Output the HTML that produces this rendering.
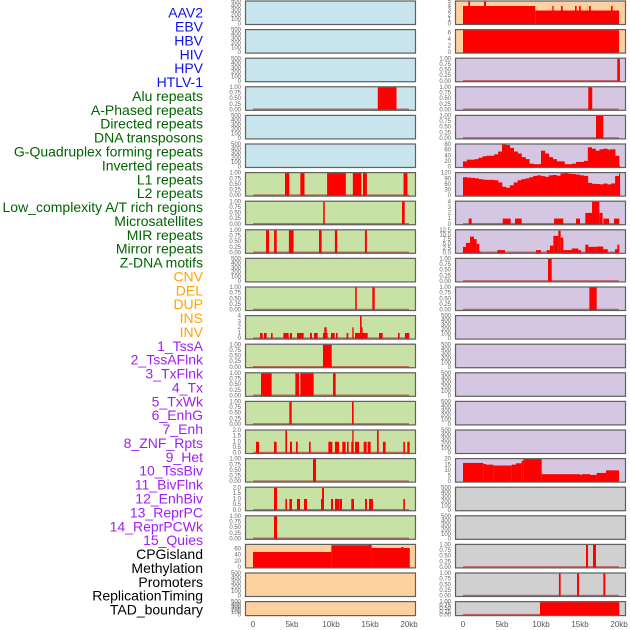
<!DOCTYPE html>
<html><head><meta charset="utf-8">
<style>
html,body{margin:0;padding:0;background:#fff;width:630px;height:630px;overflow:hidden}
svg{display:block}
</style></head>
<body>
<svg id="chart" width="630" height="630" xmlns="http://www.w3.org/2000/svg" font-family="Liberation Sans, sans-serif">
<g id="labels"></g>
<g id="panels"></g>
<g id="xaxes"></g>
</svg>
<script>
const trackLabels = ["AAV2","EBV","HBV","HIV","HPV","HTLV-1","Alu repeats","A-Phased repeats","Directed repeats","DNA transposons","G-Quadruplex forming repeats","Inverted repeats","L1 repeats","L2 repeats","Low_complexity A/T rich regions","Microsatellites","MIR repeats","Mirror repeats","Z-DNA motifs","CNV","DEL","DUP","INS","INV","1_TssA","2_TssAFlnk","3_TxFlnk","4_Tx","5_TxWk","6_EnhG","7_Enh","8_ZNF_Rpts","9_Het","10_TssBiv","11_BivFlnk","12_EnhBiv","13_ReprPC","14_ReprPCWk","15_Quies","CPGisland","Methylation","Promoters","ReplicationTiming","TAD_boundary"];
const labelGroups = [6,13,5,15,5];
const groupColors = ["#1010ee","#006400","#ffa500","#a020f0","#000000"];
const xTickLabels = ["0","5kb","10kb","15kb","20kb"];
const xTickValues = [0,5,10,15,20];

const ticks500 = ["0","100","200","300","400","500"];
const ticks1 = ["0.00","0.25","0.50","0.75","1.00"];
const ticks2 = ["0.0","0.5","1.0","1.5","2.0"];
const ticks4 = ["0","1","2","3","4"];
const ticks5 = ["0","1","2","3","4","5"];
const ticks6 = ["0","2","4","6"];
const ticks60 = ["0","20","40","60"];
const ticks80 = ["0","20","40","60","80"];
const ticks120 = ["0","30","60","90","120"];
const ticks125 = ["0.0","2.5","5.0","7.5","10.0","12.5"];
const ticks20 = ["0","5","10","15","20"];

// bars: [startKb, endKb, value]
const aluBars = [[16.0,18.4,1]];
const leftR6Bars = [[4.1,4.65,1],[6.07,6.6,1],[9.5,11.9,1],[12.8,13.9,1],[14.1,14.6,1],[19.3,19.8,1]];
const leftR7Bars = [[9.0,9.2,1],[19.1,19.45,1]];
const leftR8Bars = [[1.67,2.05,1],[2.7,3.04,1],[4.6,5.2,1],[8.46,8.8,1],[10.5,10.8,1],[14.35,14.6,1]];
const leftR10Bars = [[13.1,13.3,1],[15.3,15.6,1]];
const leftR11Bars = [[0.9,1.24,1],[1.41,1.75,1],[2.31,2.52,1],[3.89,4.57,1],[4.74,5.0,1],[5.64,6.49,1],[7.31,7.56,1],[7.82,8.29,1],[8.97,9.57,1],[9.14,9.44,2],[10.0,10.47,1],[10.64,10.85,1],[12.0,12.22,1],[12.73,12.9,2],[13.08,14.7,1],[13.72,13.93,4],[13.93,14.06,2],[16.15,16.62,1],[18.59,18.8,1],[19.48,20.04,1]];
const leftR12Bars = [[8.97,10.09,1]];
const leftR13Bars = [[1.03,2.39,1],[5.43,5.9,1],[6.07,7.78,1],[10.26,10.6,1]];
const leftR14Bars = [[4.66,4.96,1],[12.69,12.9,1]];
const leftR15Bars = [[0.38,0.77,1],[2.69,3.03,1],[4.15,4.36,2],[4.74,5.0,1],[5.51,5.73,1],[7.18,7.39,1],[9.66,10.17,1],[10.51,11.03,1],[11.45,11.88,1],[12.05,12.26,1],[12.6,12.9,1],[12.73,12.9,2],[13.08,13.59,1],[14.19,14.57,1],[14.7,15.08,1],[15.9,16.11,2],[16.66,17.0,1],[19.27,19.48,1],[19.78,20.08,1]];
const leftR16Bars = [[7.69,8.08,1]];
const leftR17Bars = [[2.69,3.08,2],[4.15,4.36,1],[4.66,5.0,1],[5.64,6.03,1],[6.54,6.92,1],[8.72,9.06,1],[8.85,9.1,2],[10.0,10.26,1],[10.51,11.07,1],[11.11,11.41,1],[12.6,12.95,1],[14.36,14.61,1],[14.87,15.38,1],[19.27,19.48,1]];
const leftR18Bars = [[2.69,3.08,1]];
const cpgBars = [[0,10.05,50],[10.05,15.2,72],[14.8,15.2,74],[15.2,20.1,63],[19.0,19.3,66]];
const rightR0Bars = [[0,9.26,4],[9.26,20,3],[0.68,0.9,5],[2.69,2.95,5],[11.45,11.62,4],[12.56,12.78,4],[14.36,14.57,4],[14.87,15.08,4],[16.15,16.37,4],[18.97,19.18,4]];
const rightR1Bars = [[0,20,6.8]];
const rightR2Bars = [[19.78,20.12,1]];
const rightR3Bars = [[16.06,16.57,1]];
const rightR4Bars = [[17.05,17.99,1]];
const rightR7Bars = [[0.73,1.11,1],[5.09,6.11,1],[6.67,7.52,1],[11.67,12.86,1],[14.49,15.0,1],[15.68,16.54,2],[16.54,17.48,4],[17.48,17.9,2],[17.99,18.72,1],[19.36,20.04,1]];
const rightR8Bars = [[0,0.38,3.3],[0.38,0.9,5.5],[0.9,1.41,9],[1.41,1.75,7.6],[1.75,2.09,5],[2.09,2.2,1],[4.4,5.38,1.5],[9.36,10,1.5],[10.73,11.15,1.5],[11.15,11.58,4],[11.58,12.22,9.4],[12.22,12.52,12.3],[12.52,12.86,8.5],[12.86,13.93,1.5],[13.93,14.79,2.4],[14.79,15.13,1.5],[15.68,16.07,4.5],[16.07,17.14,3.3],[17.14,17.99,3.5],[17.99,18.55,2],[19.49,19.79,2],[19.79,20.04,4.5]];
const rightR9Bars = [[10.9,11.37,1]];
const rightR10Bars = [[16.2,17.14,1]];
const hetBars = [[0,2.6,16.6],[2.6,2.95,15.7],[2.95,3.89,15.1],[3.89,6.24,14.3],[6.24,6.79,15.1],[6.79,7.52,16.3],[7.52,7.74,18.6],[7.74,10.09,20],[10.09,15.0,6.6],[15.0,15.2,6],[15.2,16.28,6.6],[16.28,17.14,6],[17.14,18.33,7.7],[18.33,20,10]];
const rightR19Bars = [[15.77,16.03,1],[16.67,17.05,1]];
const rightR20Bars = [[12.3,12.52,1],[14.62,14.87,1],[17.99,18.25,1]];
const rightR21Bars = [[9.87,20.04,1]];

// step profiles sampled every 0.5 kb from 0 to 20
const gquadValues = [20,26,26,28,33,38,40,40,45,55,80,78,68,55,48,35,28,12,10,10,58,48,35,28,20,20,10,10,12,18,18,22,70,65,58,63,65,62,63,40,5];
const invertedValues = [98,96,94,92,88,85,84,84,82,70,47,42,55,70,82,88,92,98,105,108,104,100,108,110,106,118,120,116,115,112,108,105,68,63,62,60,64,60,65,105,118];

const BLUE="#c8e4ec", GREEN="#c8e2a6", PEACH="#ffd19f", PURPLE="#d5c7e1", GRAY="#d0d0d0";
const panelDefs = [
 // left column
 {c:0,r:0,bg:BLUE,ymax:500,ticks:ticks500},
 {c:0,r:1,bg:BLUE,ymax:500,ticks:ticks500},
 {c:0,r:2,bg:BLUE,ymax:500,ticks:ticks500},
 {c:0,r:3,bg:BLUE,ymax:1,ticks:ticks1,bars:aluBars},
 {c:0,r:4,bg:BLUE,ymax:500,ticks:ticks500},
 {c:0,r:5,bg:BLUE,ymax:500,ticks:ticks500},
 {c:0,r:6,bg:GREEN,ymax:1,ticks:ticks1,bars:leftR6Bars},
 {c:0,r:7,bg:GREEN,ymax:1,ticks:ticks1,bars:leftR7Bars},
 {c:0,r:8,bg:GREEN,ymax:1,ticks:ticks1,bars:leftR8Bars},
 {c:0,r:9,bg:GREEN,ymax:500,ticks:ticks500},
 {c:0,r:10,bg:GREEN,ymax:1,ticks:ticks1,bars:leftR10Bars},
 {c:0,r:11,bg:GREEN,ymax:4,ticks:ticks4,bars:leftR11Bars},
 {c:0,r:12,bg:GREEN,ymax:1,ticks:ticks1,bars:leftR12Bars},
 {c:0,r:13,bg:GREEN,ymax:1,ticks:ticks1,bars:leftR13Bars},
 {c:0,r:14,bg:GREEN,ymax:1,ticks:ticks1,bars:leftR14Bars},
 {c:0,r:15,bg:GREEN,ymax:2,ticks:ticks2,bars:leftR15Bars},
 {c:0,r:16,bg:GREEN,ymax:1,ticks:ticks1,bars:leftR16Bars},
 {c:0,r:17,bg:GREEN,ymax:2,ticks:ticks2,bars:leftR17Bars},
 {c:0,r:18,bg:GREEN,ymax:1,ticks:ticks1,bars:leftR18Bars},
 {c:0,r:19,bg:PEACH,ymax:73,ticks:ticks60,bars:cpgBars,nobase:true},
 {c:0,r:20,bg:PEACH,ymax:500,ticks:ticks500},
 {c:0,r:21,bg:PEACH,ymax:500,ticks:ticks500},
 // right column
 {c:1,r:0,bg:PEACH,ymax:5,ticks:ticks5,bars:rightR0Bars,nobase:true},
 {c:1,r:1,bg:PEACH,ymax:6.8,ticks:ticks6,bars:rightR1Bars,nobase:true},
 {c:1,r:2,bg:PURPLE,ymax:1,ticks:ticks1,bars:rightR2Bars},
 {c:1,r:3,bg:PURPLE,ymax:1,ticks:ticks1,bars:rightR3Bars},
 {c:1,r:4,bg:PURPLE,ymax:1,ticks:ticks1,bars:rightR4Bars},
 {c:1,r:5,bg:PURPLE,ymax:80,ticks:ticks80,series:gquadValues},
 {c:1,r:6,bg:PURPLE,ymax:120,ticks:ticks120,series:invertedValues},
 {c:1,r:7,bg:PURPLE,ymax:4,ticks:ticks4,bars:rightR7Bars},
 {c:1,r:8,bg:PURPLE,ymax:12.5,ticks:ticks125,bars:rightR8Bars},
 {c:1,r:9,bg:PURPLE,ymax:1,ticks:ticks1,bars:rightR9Bars},
 {c:1,r:10,bg:PURPLE,ymax:1,ticks:ticks1,bars:rightR10Bars},
 {c:1,r:11,bg:PURPLE,ymax:500,ticks:ticks500},
 {c:1,r:12,bg:PURPLE,ymax:500,ticks:ticks500},
 {c:1,r:13,bg:PURPLE,ymax:500,ticks:ticks500},
 {c:1,r:14,bg:PURPLE,ymax:500,ticks:ticks500},
 {c:1,r:15,bg:PURPLE,ymax:500,ticks:ticks500},
 {c:1,r:16,bg:PURPLE,ymax:20,ticks:ticks20,bars:hetBars,nobase:true},
 {c:1,r:17,bg:GRAY,ymax:500,ticks:ticks500},
 {c:1,r:18,bg:GRAY,ymax:500,ticks:ticks500},
 {c:1,r:19,bg:GRAY,ymax:1,ticks:ticks1,bars:rightR19Bars},
 {c:1,r:20,bg:GRAY,ymax:1,ticks:ticks1,bars:rightR20Bars},
 {c:1,r:21,bg:GRAY,ymax:1,ticks:ticks1,bars:rightR21Bars}
];

const NS="http://www.w3.org/2000/svg";
function mk(tag, attrs, parent){const e=document.createElementNS(NS,tag);for(const k in attrs)e.setAttribute(k,attrs[k]);parent.appendChild(e);return e;}
const colX=[245,455], colW=171, zeroX=[253,463], PXKB=7.8;
function xScale(c,kb){return zeroX[c]+kb*PXKB;}
function rowTop(r){return 0.5+28.6*r;}
function rowH(r){return r===21?15:24.5;}

// labels
const labG=document.getElementById('labels');
let idx=0;
labelGroups.forEach((n,g)=>{for(let i=0;i<n;i++){
  const t=mk('text',{x:203,y:14+13.88*idx,'text-anchor':'end','dominant-baseline':'middle','font-size':'14',fill:groupColors[g]},labG);
  t.textContent=trackLabels[idx];
  
  
  idx++;}});

const pG=document.getElementById('panels');
panelDefs.forEach(p=>{
  const top=rowTop(p.r), h=rowH(p.r), x0=colX[p.c];
  const g=mk('g',{},pG);
  
  
  const bg=mk('rect',{x:x0,y:top,width:colW,height:h,fill:p.bg},g);
  
  
  const yb=top+h-1, yt=top+1;
  const yS=v=>yb-(v/p.ymax)*(yb-yt);
  if(p.bars||p.series){
    if(!p.nobase){const bl=mk('line',{x1:xScale(p.c,0),x2:xScale(p.c,20),y1:yb-0.5,y2:yb-0.5,stroke:'#b03a3a','stroke-width':1.5,'stroke-opacity':0.7},g);
      
      }
  }
  if(p.bars){p.bars.forEach(b=>{
    const xa=xScale(p.c,b[0]), xb=xScale(p.c,b[1]), y=yS(b[2]);
    const r=mk('rect',{x:xa,y:y,width:Math.max(xb-xa,1),height:yb-y+0.5,fill:'#ff0000'},g);
    
    
  });}
  if(p.series){p.series.forEach((v,i)=>{
    const kb=i*0.5, xa=xScale(p.c,kb), xb=xScale(p.c,Math.min(kb+0.5,20.1)), y=yS(v);
    const r=mk('rect',{x:xa,y:y,width:Math.max(xb-xa,0.5)+0.3,height:yb-y+0.5,fill:'#ff0000'},g);
    
    
  });}
  const fr=mk('rect',{x:x0+0.5,y:top+0.5,width:colW-1,height:h-1,fill:'none',stroke:'#606060','stroke-width':1.2},g);
  
  
  const n=p.ticks.length;
  p.ticks.forEach((t,i)=>{
    const v=p.ymax===6.8?[0,2,4,6][i]:(p.ymax===73?[0,20,40,60][i]:parseFloat(t));
    const tx=mk('text',{x:x0-4,y:yS(v),'text-anchor':'end','dominant-baseline':'middle','font-size':'6',fill:'#666'},g);
    tx.textContent=t;
    
    
  });
});

const xG=document.getElementById('xaxes');
[0,1].forEach(c=>{xTickValues.forEach((v,i)=>{
  const t=mk('text',{x:xScale(c,v),y:627,'text-anchor':'middle','font-size':'8',fill:'#555'},xG);
  t.textContent=xTickLabels[i];
  
  
});});
</script>
</body></html>
